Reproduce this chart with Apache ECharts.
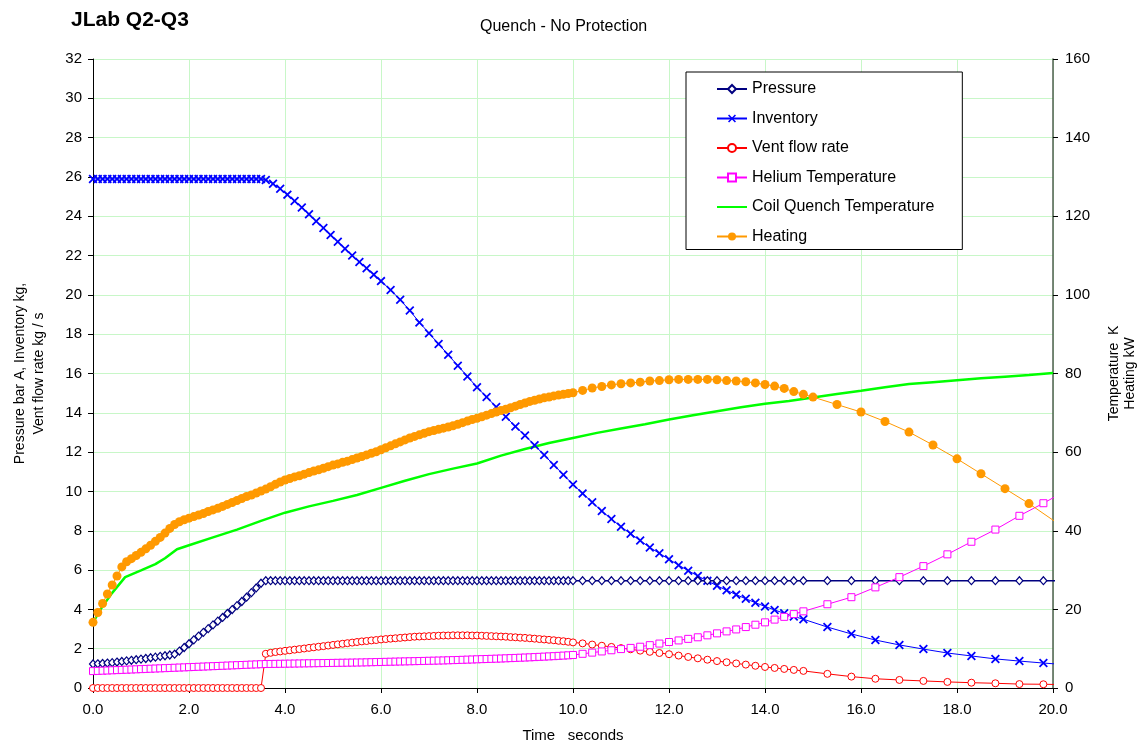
<!DOCTYPE html>
<html>
<head>
<meta charset="utf-8">
<script src="https://cdn.jsdelivr.net/npm/echarts@6/dist/echarts.min.js"></script>
<style>html,body{margin:0;padding:0;background:#fff}#c{width:1141px;height:742px}</style>
</head>
<body>
<div id="c"></div>
<script>
// time samples (s) for Pressure, Vent flow rate, Helium Temperature
const tA = [0,0.1,0.2,0.3,0.4,0.5,0.6,0.7,0.8,0.9,
1,1.1,1.2,1.3,1.4,1.5,1.6,1.7,1.8,1.9,
2,2.1,2.2,2.3,2.4,2.5,2.6,2.7,2.8,2.9,
3,3.1,3.2,3.3,3.4,3.5,3.6,3.7,3.8,3.9,
4,4.1,4.2,4.3,4.4,4.5,4.6,4.7,4.8,4.9,
5,5.1,5.2,5.3,5.4,5.5,5.6,5.7,5.8,5.9,
6,6.1,6.2,6.3,6.4,6.5,6.6,6.7,6.8,6.9,
7,7.1,7.2,7.3,7.4,7.5,7.6,7.7,7.8,7.9,
8,8.1,8.2,8.3,8.4,8.5,8.6,8.7,8.8,8.9,
9,9.1,9.2,9.3,9.4,9.5,9.6,9.7,9.8,9.9,
10,10.2,10.4,10.6,10.8,11,11.2,11.4,11.6,11.8,12,12.2,12.4,12.6,12.8,13,13.2,13.4,13.6,13.8,14,14.2,14.4,14.6,14.8,
15.3,15.8,16.3,16.8,17.3,17.8,18.3,18.8,19.3,19.8,20.3];

const pressure = [1.22,1.23,1.25,1.27,1.29,1.32,1.35,1.38,1.41,1.44,
1.47,1.50,1.54,1.57,1.61,1.64,1.68,1.72,1.88,2.06,
2.25,2.45,2.64,2.83,3.02,3.21,3.40,3.59,3.79,3.99,
4.19,4.40,4.62,4.85,5.09,5.33,5.46,5.46,5.46,5.46,
5.46,5.46,5.46,5.46,5.46,5.46,5.46,5.46,5.46,5.46,
5.46,5.46,5.46,5.46,5.46,5.46,5.46,5.46,5.46,5.46,
5.46,5.46,5.46,5.46,5.46,5.46,5.46,5.46,5.46,5.46,
5.46,5.46,5.46,5.46,5.46,5.46,5.46,5.46,5.46,5.46,
5.46,5.46,5.46,5.46,5.46,5.46,5.46,5.46,5.46,5.46,
5.46,5.46,5.46,5.46,5.46,5.46,5.46,5.46,5.46,5.46,
5.46,5.46,5.46,5.46,5.46,5.46,5.46,5.46,5.46,5.46,5.46,5.46,5.46,5.46,5.46,5.46,5.46,5.46,5.46,5.46,5.46,5.46,5.46,5.46,5.46,
5.46,5.46,5.46,5.46,5.46,5.46,5.46,5.46,5.46,5.46,5.46];

const vent = [0,0,0,0,0,0,0,0,0,0,
0,0,0,0,0,0,0,0,0,0,
0,0,0,0,0,0,0,0,0,0,
0,0,0,0,0,0,1.74,1.79,1.83,1.86,
1.89,1.92,1.95,1.98,2.01,2.04,2.07,2.10,2.13,2.16,
2.19,2.22,2.25,2.28,2.31,2.34,2.37,2.39,2.42,2.44,
2.47,2.49,2.51,2.53,2.55,2.57,2.59,2.61,2.62,2.63,
2.64,2.65,2.66,2.67,2.67,2.68,2.68,2.68,2.68,2.67,
2.67,2.66,2.65,2.64,2.63,2.62,2.61,2.59,2.58,2.56,
2.55,2.53,2.51,2.49,2.47,2.45,2.43,2.40,2.38,2.35,
2.32,2.27,2.21,2.15,2.09,2.03,1.97,1.90,1.84,1.78,1.72,1.65,1.58,1.51,1.44,1.37,1.31,1.25,1.19,1.13,1.07,1.02,0.97,0.92,0.87,
0.72,0.58,0.47,0.41,0.36,0.31,0.27,0.24,0.20,0.19,0.17];

// Helium temperature, K (right axis)
const helium = [4.30,4.35,4.40,4.45,4.50,4.55,4.60,4.65,4.70,4.75,
4.80,4.85,4.90,4.95,5.00,5.05,5.10,5.15,5.20,5.25,
5.30,5.35,5.40,5.45,5.50,5.55,5.60,5.65,5.70,5.75,
5.80,5.85,5.90,5.95,6.00,6.05,6.10,6.12,6.14,6.16,
6.18,6.20,6.22,6.24,6.26,6.28,6.30,6.32,6.34,6.36,
6.38,6.40,6.42,6.44,6.46,6.48,6.50,6.53,6.56,6.59,
6.62,6.65,6.68,6.71,6.74,6.77,6.80,6.83,6.86,6.89,
6.92,6.95,6.98,7.01,7.05,7.09,7.13,7.17,7.21,7.25,
7.30,7.34,7.38,7.42,7.46,7.50,7.55,7.60,7.65,7.70,
7.75,7.80,7.86,7.92,7.98,8.04,8.10,8.17,8.24,8.31,
8.40,8.7,9.0,9.3,9.6,9.9,10.2,10.5,10.9,11.3,11.7,12.1,12.5,12.9,13.4,13.9,14.4,14.9,15.5,16.1,16.7,17.4,18.1,18.8,19.5,
21.3,23.1,25.6,28.2,31.0,34.0,37.2,40.3,43.8,47.0,50.4];

// Inventory
const tI = [0,0.1,0.2,0.3,0.4,0.5,0.6,0.7,0.8,0.9,
1,1.1,1.2,1.3,1.4,1.5,1.6,1.7,1.8,1.9,
2,2.1,2.2,2.3,2.4,2.5,2.6,2.7,2.8,2.9,
3,3.1,3.2,3.3,3.4,3.5,
3.6,3.75,3.9,4.05,4.2,4.35,4.5,4.65,4.8,4.95,5.1,5.25,5.4,5.55,5.7,5.85,6.0,
6.2,6.4,6.6,6.8,7,7.2,7.4,7.6,7.8,8,8.2,8.4,8.6,8.8,9,9.2,9.4,9.6,9.8,10,
10.2,10.4,10.6,10.8,11,11.2,11.4,11.6,11.8,12,12.2,12.4,12.6,12.8,13,13.2,13.4,13.6,13.8,14,14.2,14.4,14.6,14.8,
15.3,15.8,16.3,16.8,17.3,17.8,18.3,18.8,19.3,19.8,20.3];
const inventory = [25.9,25.9,25.9,25.9,25.9,25.9,25.9,25.9,25.9,25.9,
25.9,25.9,25.9,25.9,25.9,25.9,25.9,25.9,25.9,25.9,
25.9,25.9,25.9,25.9,25.9,25.9,25.9,25.9,25.9,25.9,
25.9,25.9,25.9,25.9,25.9,25.9,
25.85,25.65,25.4,25.1,24.78,24.45,24.1,23.75,23.4,23.05,22.7,22.35,22.0,21.67,21.35,21.03,20.7,
20.25,19.75,19.2,18.6,18.05,17.5,16.95,16.4,15.85,15.3,14.8,14.3,13.8,13.3,12.85,12.35,11.85,11.35,10.85,10.35,
9.9,9.45,9.0,8.6,8.2,7.85,7.5,7.15,6.85,6.55,6.25,5.97,5.7,5.45,5.2,4.97,4.75,4.54,4.34,4.15,3.97,3.8,3.64,3.5,
3.1,2.75,2.44,2.19,1.98,1.78,1.63,1.48,1.37,1.27,1.18];

// Coil quench temperature, K (right axis)
const tC = [0,0.2,0.4,0.67,1.0,1.3,1.5,1.75,2.0,2.5,3.0,3.5,4.0,4.5,5.0,5.5,6.0,6.5,7.0,7.5,8.0,8.5,9.0,9.5,10.0,10.5,11.0,11.5,12.0,12.5,13.0,13.5,14.0,14.5,15.0,15.5,16.0,16.5,17.0,17.5,18.0,18.5,19.0,19.5,20.0];
const coil = [16.7,20.8,24.2,28.2,29.9,31.5,33.0,35.3,36.3,38.3,40.3,42.5,44.6,46.2,47.6,49.1,50.9,52.7,54.4,55.8,57.1,59.1,60.8,62.3,63.6,64.9,66.0,67.1,68.3,69.4,70.4,71.4,72.3,73.0,73.9,74.8,75.6,76.5,77.3,77.8,78.3,78.8,79.2,79.6,80.1];

// Heating, kW (right axis)
const tH = [0,0.1,0.2,0.3,0.4,0.5,0.6,0.7,0.8,0.9,
1,1.1,1.2,1.3,1.4,1.5,1.6,1.7,1.8,1.9,
2,2.1,2.2,2.3,2.4,2.5,2.6,2.7,2.8,2.9,
3,3.1,3.2,3.3,3.4,3.5,3.6,3.7,3.8,3.9,
4,4.1,4.2,4.3,4.4,4.5,4.6,4.7,4.8,4.9,
5,5.1,5.2,5.3,5.4,5.5,5.6,5.7,5.8,5.9,
6,6.1,6.2,6.3,6.4,6.5,6.6,6.7,6.8,6.9,
7,7.1,7.2,7.3,7.4,7.5,7.6,7.7,7.8,7.9,
8,8.1,8.2,8.3,8.4,8.5,8.6,8.7,8.8,8.9,
9,9.1,9.2,9.3,9.4,9.5,9.6,9.7,9.8,9.9,
10,10.2,10.4,10.6,10.8,11,11.2,11.4,11.6,11.8,12,12.2,12.4,12.6,12.8,13,13.2,13.4,13.6,13.8,14,14.2,14.4,14.6,14.8,15,
15.5,16,16.5,17,17.5,18,18.5,19,19.5,20.5];
const heating = [16.7,19.2,21.5,23.9,26.2,28.5,30.8,32.1,32.9,33.7,
34.5,35.4,36.3,37.3,38.3,39.4,40.6,41.6,42.3,42.8,
43.2,43.6,44.0,44.4,44.9,45.3,45.7,46.2,46.7,47.2,
47.7,48.2,48.7,49.1,49.6,50.1,50.6,51.2,51.8,52.4,
52.9,53.3,53.7,54.0,54.4,54.8,55.2,55.5,55.9,56.3,
56.7,57.0,57.4,57.7,58.1,58.5,58.9,59.3,59.7,60.1,
60.6,61.1,61.6,62.1,62.6,63.1,63.6,64.0,64.4,64.8,
65.2,65.5,65.8,66.1,66.4,66.7,67.1,67.5,67.9,68.3,
68.6,69.0,69.4,69.8,70.2,70.6,70.9,71.3,71.7,72.1,
72.5,72.9,73.2,73.5,73.8,74.0,74.3,74.5,74.7,74.9,
75.1,75.7,76.3,76.7,77.1,77.4,77.6,77.8,78.1,78.2,78.4,78.5,78.5,78.5,78.5,78.4,78.2,78.1,77.9,77.6,77.2,76.8,76.2,75.4,74.7,74.0,
72.1,70.2,67.8,65.1,61.8,58.3,54.5,50.7,46.9,38.5];

const seriesNames = ['Pressure','Inventory','Vent flow rate','Helium Temperature','Coil Quench Temperature','Heating'];

function pairs(t, v) { const n = Math.min(t.length, v.length); const out = []; for (let i = 0; i < n; i++) out.push([t[i], v[i]]); return out; }

const FONT = 'Liberation Sans, Arial, sans-serif';
const crossPath = 'path://M0,1.4L1.4,0L5,3.6L8.6,0L10,1.4L6.4,5L10,8.6L8.6,10L5,6.4L1.4,10L0,8.6L3.6,5Z';

const chart = echarts.init(document.getElementById('c'), null, {renderer: 'canvas'});
chart.setOption({
  animation: false,
  backgroundColor: '#fff',
  textStyle: {fontFamily: FONT},
  title: [
    {text: 'JLab Q2-Q3', left: 66, top: 5, textStyle: {fontFamily: FONT, fontSize: 21, fontWeight: 'bold', color: '#000'}},
    {text: 'Quench - No Protection', left: 475, top: 14, textStyle: {fontFamily: FONT, fontSize: 16, fontWeight: 'normal', color: '#000'}}
  ],
  legend: {
    orient: 'vertical', left: 686, top: 72,
    data: seriesNames.map(n => n === 'Coil Quench Temperature' ? {name: n, itemStyle: {opacity: 0}} : {name: n}),
    itemWidth: 30, itemHeight: 10, itemGap: 13.5,
    padding: [9, 28, 5, 30],
    borderColor: '#000', borderWidth: 1, backgroundColor: '#fff',
    textStyle: {fontFamily: FONT, fontSize: 16, color: '#000'}
  },
  grid: {left: 93, right: 88, top: 59, bottom: 54, containLabel: false, outerBoundsMode: 'none'},
  xAxis: {
    type: 'value', min: 0, max: 20, interval: 2,
    name: 'Time   seconds', nameLocation: 'middle', nameGap: 40,
    nameTextStyle: {fontFamily: FONT, fontSize: 15, color: '#000'},
    axisLine: {show: true, onZero: false, lineStyle: {color: '#000', width: 1}},
    axisTick: {show: true, inside: false, length: 5, lineStyle: {color: '#000'}},
    axisLabel: {fontFamily: FONT, fontSize: 15, color: '#000', margin: 14, formatter: v => v.toFixed(1)},
    splitLine: {show: true, lineStyle: {color: '#c8f7c8', width: 1}}
  },
  yAxis: [
    {
      type: 'value', min: 0, max: 32, interval: 2, position: 'left',
      name: 'Pressure bar A, Inventory kg,\nVent flow rate kg / s', nameLocation: 'middle', nameRotate: 90, nameGap: 44,
      nameTextStyle: {fontFamily: FONT, fontSize: 14, color: '#000', lineHeight: 19, align: 'center'},
      axisLine: {show: true, lineStyle: {color: '#000', width: 1}},
      axisTick: {show: true, inside: false, length: 5, lineStyle: {color: '#000'}},
      axisLabel: {fontFamily: FONT, fontSize: 15, color: '#000', margin: 11},
      splitLine: {show: true, lineStyle: {color: '#c8f7c8', width: 1}}
    },
    {
      type: 'value', min: 0, max: 160, interval: 20, position: 'right',
      name: 'Temperature  K\nHeating kW', nameLocation: 'middle', nameRotate: 90, nameGap: 53,
      nameTextStyle: {fontFamily: FONT, fontSize: 14, color: '#000', lineHeight: 16, align: 'center'},
      axisLine: {show: true, lineStyle: {color: '#4f5f4f', width: 1.5}},
      axisTick: {show: true, inside: false, length: 5, lineStyle: {color: '#000'}},
      axisLabel: {fontFamily: FONT, fontSize: 15, color: '#000', margin: 12},
      splitLine: {show: false}
    }
  ],
  series: [
    {
      name: 'Coil Quench Temperature', type: 'line', yAxisIndex: 1, data: pairs(tC, coil),
      symbol: 'none', showSymbol: false, z: 2,
      lineStyle: {color: '#00ff00', width: 2.5}, itemStyle: {color: '#00ff00'}
    },
    {
      name: 'Inventory', type: 'line', yAxisIndex: 0, data: pairs(tI, inventory),
      symbol: crossPath, symbolSize: 9, z: 3,
      lineStyle: {color: '#0000ff', width: 1}, itemStyle: {color: '#0000ff'}
    },
    {
      name: 'Pressure', type: 'line', yAxisIndex: 0, data: pairs(tA, pressure),
      symbol: 'diamond', symbolSize: [7, 8], z: 4,
      lineStyle: {color: '#000080', width: 1.5}, itemStyle: {color: '#ffffff', borderColor: '#000080', borderWidth: 1.2}
    },
    {
      name: 'Vent flow rate', type: 'line', yAxisIndex: 0, data: pairs(tA, vent),
      symbol: 'circle', symbolSize: 7, z: 4,
      lineStyle: {color: '#ff0000', width: 1}, itemStyle: {color: '#ffffff', borderColor: '#ff0000', borderWidth: 1}
    },
    {
      name: 'Helium Temperature', type: 'line', yAxisIndex: 1, data: pairs(tA, helium),
      symbol: 'rect', symbolSize: 7, z: 4,
      lineStyle: {color: '#ff00ff', width: 1}, itemStyle: {color: '#ffffff', borderColor: '#ff00ff', borderWidth: 1}
    },
    {
      name: 'Heating', type: 'line', yAxisIndex: 1, data: pairs(tH, heating),
      symbol: 'circle', symbolSize: 9, z: 5,
      lineStyle: {color: '#ff9900', width: 1}, itemStyle: {color: '#ff9900'}
    }
  ]
});
</script>
</body>
</html>
